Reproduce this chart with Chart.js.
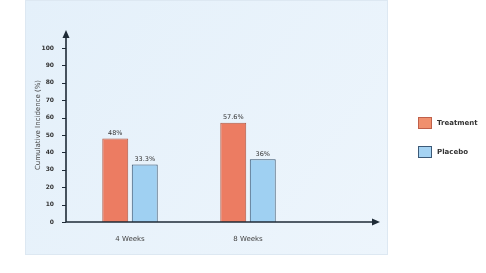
<!DOCTYPE html>
<html><head><meta charset="utf-8">
<script src="https://cdn.jsdelivr.net/npm/chart.js@4.4.1/dist/chart.umd.min.js"></script>
<style>html,body{margin:0;padding:0;background:#fff}#wrap{width:486px;height:273px}</style>
</head><body><div id="wrap"><canvas id="c" width="486" height="273"></canvas></div>
<script>
const categories = ['4 Weeks', '8 Weeks'];
const seriesNames = ['Treatment', 'Placebo'];
const treatmentValues = [48, 57];
const placeboValues = [33, 36];
const valueLabels = [['48%', '57.6%'], ['33.3%', '36%']];
const yTicks = [0,10,20,30,40,50,60,70,80,90,100];
const yTitle = 'Cumulative Incidence (%)';

const FONT = 'DejaVu Sans';
const decor = {
  id: 'decor',
  beforeDraw(chart) {
    const ctx = chart.ctx;
    ctx.save();
    const g = ctx.createLinearGradient(25, 0, 388, 255);
    g.addColorStop(0, '#e4f0fa');
    g.addColorStop(1, '#edf5fc');
    ctx.fillStyle = g;
    ctx.fillRect(25, 0, 363, 255);
    ctx.strokeStyle = '#dde8f2'; ctx.lineWidth = 1;
    ctx.strokeRect(25.5, 0.5, 362, 254);
    ctx.restore();
  },
  afterDatasetsDraw(chart) {
    const ctx = chart.ctx, ca = chart.chartArea;
    const y = chart.scales.y;
    const axX = ca.left - 5, y0 = y.getPixelForValue(0);
    ctx.save();
    ctx.strokeStyle = '#1e2a36'; ctx.fillStyle = '#1e2a36'; ctx.lineWidth = 1.6;
    ctx.beginPath(); ctx.moveTo(axX, y0); ctx.lineTo(axX, 36); ctx.stroke();
    ctx.beginPath(); ctx.moveTo(axX, 30); ctx.lineTo(axX - 3.5, 38); ctx.lineTo(axX + 3.5, 38); ctx.closePath(); ctx.fill();
    ctx.beginPath(); ctx.moveTo(axX, y0); ctx.lineTo(374, y0); ctx.stroke();
    ctx.beginPath(); ctx.moveTo(380, y0); ctx.lineTo(372, y0 - 3.5); ctx.lineTo(372, y0 + 3.5); ctx.closePath(); ctx.fill();
    ctx.lineWidth = 1;
    yTicks.forEach(v => { const py = Math.round(y.getPixelForValue(v)) + 0.5; ctx.beginPath(); ctx.moveTo(axX - 4, py); ctx.lineTo(axX, py); ctx.stroke(); });
    ctx.font = '6.5px ' + FONT; ctx.textAlign = 'center'; ctx.textBaseline = 'bottom'; ctx.fillStyle = '#333';
    chart.data.datasets.forEach((ds, di) => {
      chart.getDatasetMeta(di).data.forEach((bar, i) => { ctx.fillText(valueLabels[di][i], bar.x, bar.y - 2); });
    });
    ctx.save(); ctx.translate(38, 125); ctx.rotate(-Math.PI / 2);
    ctx.font = '7px ' + FONT; ctx.textAlign = 'center'; ctx.textBaseline = 'middle'; ctx.fillStyle = '#444';
    ctx.fillText(yTitle, 0, 0); ctx.restore();
    const cols = [['#f0906e', '#c0604a'], ['#a5d3f3', '#3c5a78']];
    seriesNames.forEach((n, i) => {
      const ly = 117 + i * 29;
      ctx.fillStyle = cols[i][0]; ctx.strokeStyle = cols[i][1]; ctx.lineWidth = 1;
      ctx.fillRect(418, ly, 14, 12); ctx.strokeRect(418.5, ly + 0.5, 13, 11);
      ctx.fillStyle = '#333'; ctx.font = 'bold 7px ' + FONT; ctx.textAlign = 'left'; ctx.textBaseline = 'middle';
      ctx.fillText(n, 437, ly + 6);
    });
    ctx.restore();
  }
};

new Chart(document.getElementById('c'), {
  type: 'bar',
  data: {
    labels: categories,
    datasets: [
      { label: seriesNames[0], data: treatmentValues, backgroundColor: '#ec7c62', borderColor: '#b05a46', borderWidth: 1, barPercentage: 0.88, categoryPercentage: 0.5 },
      { label: seriesNames[1], data: placeboValues, backgroundColor: '#9fd0f2', borderColor: '#34506c', borderWidth: 1, barPercentage: 0.88, categoryPercentage: 0.5 }
    ]
  },
  options: {
    responsive: false, animation: false,
    layout: { padding: { left: 25, right: 179, top: 48, bottom: 27 } },
    plugins: { legend: { display: false }, tooltip: { enabled: false } },
    scales: {
      x: { grid: { display: false }, border: { display: false },
           ticks: { font: { family: FONT, size: 7 }, color: '#444', padding: 5 },
           afterFit(s) { s.height = 24; } },
      y: { min: 0, max: 100, grid: { display: false }, border: { display: false },
           ticks: { stepSize: 10, font: { family: FONT, size: 6, weight: 'bold' }, color: '#333', padding: 9 },
           afterFit(s) { s.width = 46; } }
    }
  },
  plugins: [decor]
});
</script></body></html>
